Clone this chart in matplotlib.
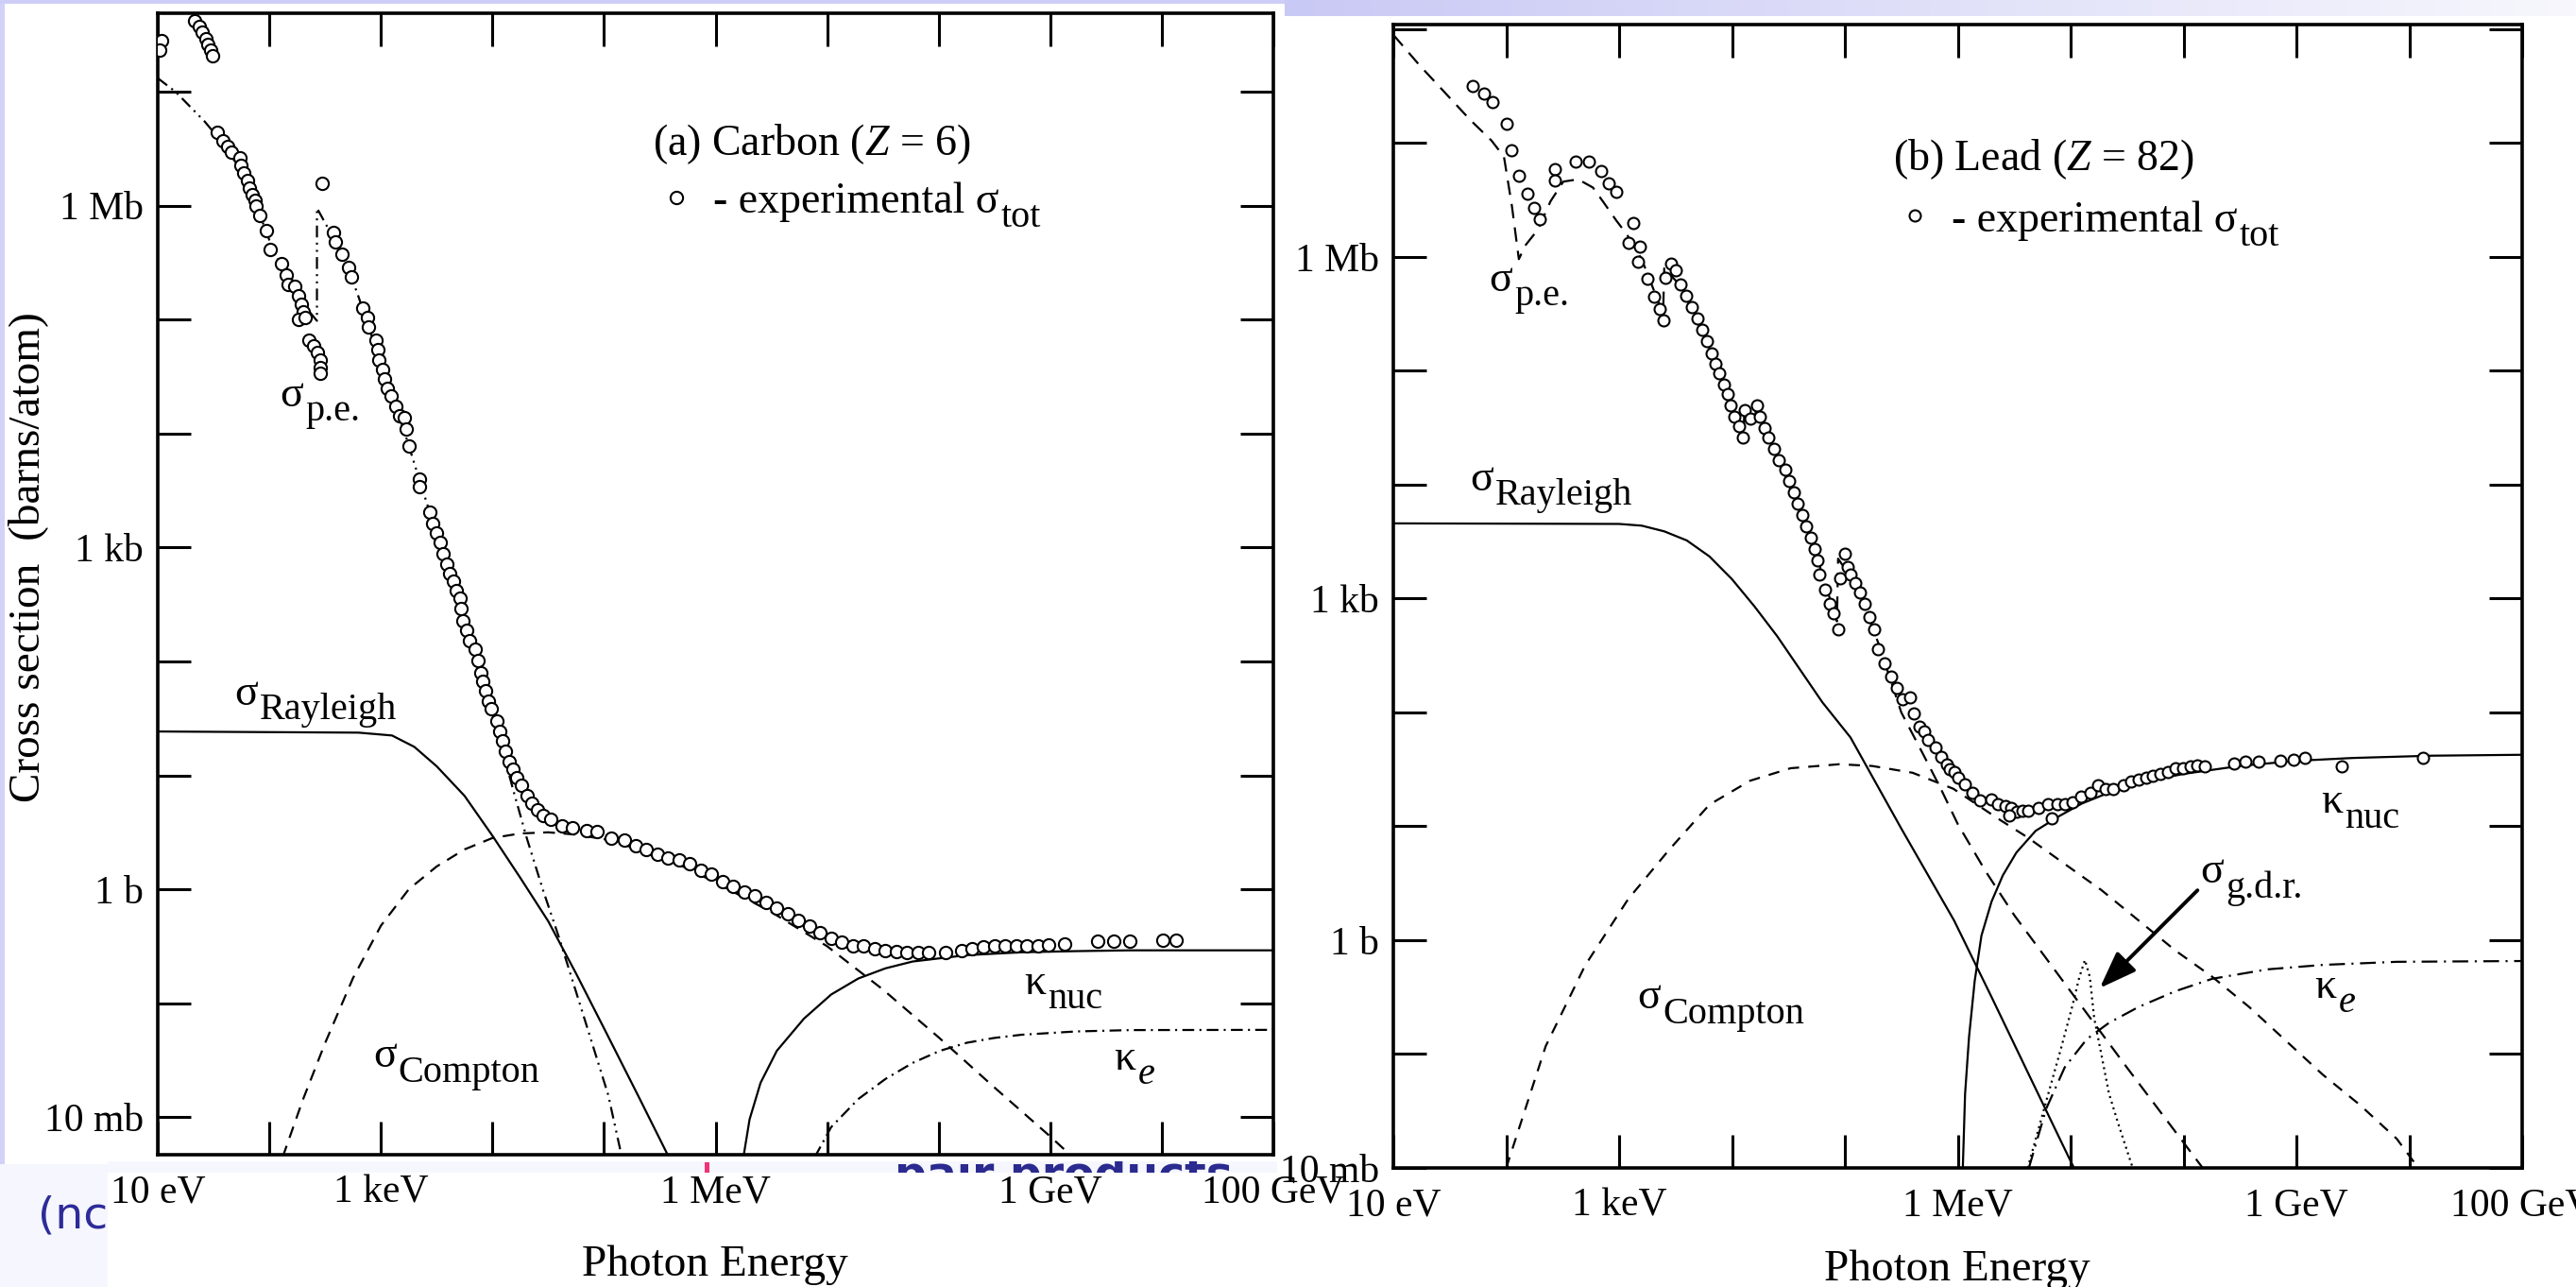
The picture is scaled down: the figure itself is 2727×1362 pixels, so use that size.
import numpy as np
import matplotlib
matplotlib.use("Agg")
import matplotlib.pyplot as plt
from matplotlib.patches import Rectangle
from matplotlib.lines import Line2D
from matplotlib.ticker import FixedLocator, FixedFormatter, NullLocator
from matplotlib.transforms import Bbox, TransformedBbox
from matplotlib.colors import LinearSegmentedColormap

plt.rcParams['font.family'] = ['Liberation Serif', 'DejaVu Serif']
plt.rcParams['mathtext.fontset'] = 'custom'
plt.rcParams['mathtext.rm'] = 'Liberation Serif'
plt.rcParams['mathtext.it'] = 'Liberation Serif:italic'
plt.rcParams['lines.scale_dashes'] = False

# ---------------- tick labels ----------------
x_tick_exp = list(range(1, 12))
x_tick_text = {1: '10 eV', 3: '1 keV', 6: '1 MeV', 9: '1 GeV', 11: '100 GeV'}
y_tick_text = {-2: '10 mb', 0: '1 b', 3: '1 kb', 6: '1 Mb'}

# ---------------- (a) Carbon : values as log10(E/eV), log10(sigma/barn) ----------------
c_exp_logE = [1.03, 1.02, 1.33, 1.37, 1.40, 1.43, 1.45, 1.47, 1.49,
              1.537, 1.582, 1.627, 1.658, 1.733, 1.742, 1.772, 1.802, 1.824, 1.845, 1.869, 1.884, 1.914, 1.974,
              2.005, 2.110, 2.155, 2.170, 2.231, 2.261, 2.291, 2.306, 2.261, 2.321, 2.351, 2.397, 2.427, 2.457,
              2.457, 2.457, 2.472,
              2.578, 2.593, 2.653, 2.713, 2.738, 2.834, 2.879, 2.888, 2.955, 2.970, 2.985, 3.015, 3.030, 3.060,
              3.090, 3.136, 3.166, 3.211, 3.226, 3.250, 3.347, 3.347, 3.437, 3.468, 3.498, 3.528, 3.558, 3.588,
              3.618, 3.649, 3.679, 3.709,
              3.722, 3.732, 3.771, 3.795, 3.844, 3.868, 3.893, 3.917, 3.942, 3.966, 3.990, 4.039, 4.063, 4.088,
              4.112, 4.151, 4.185, 4.219, 4.258, 4.307, 4.356, 4.404, 4.453, 4.526, 4.624, 4.721, 4.843, 4.941,
              5.062, 5.184, 5.282, 5.379, 5.477, 5.574, 5.672, 5.769, 5.866, 5.964, 6.061, 6.159, 6.256, 6.354,
              6.451, 6.549, 6.646, 6.744, 6.841, 6.939, 7.036, 7.134, 7.231, 7.328, 7.426, 7.523, 7.621, 7.718,
              7.816, 7.913, 8.059, 8.206, 8.303, 8.401, 8.498, 8.596, 8.693, 8.790, 8.888, 8.985, 9.131, 9.424,
              9.570, 9.716, 10.009, 10.131]
c_exp_logS = [7.45, 7.37, 7.62, 7.57, 7.52, 7.47, 7.42, 7.37, 7.32,
              6.642, 6.574, 6.524, 6.473, 6.422, 6.355, 6.287, 6.220, 6.152, 6.101, 6.051, 6.000, 5.916, 5.780,
              5.618, 5.493, 5.392, 5.307, 5.291, 5.206, 5.139, 5.071, 5.003, 5.020, 4.818, 4.767, 4.716, 4.649,
              4.581, 4.530, 6.193,
              5.764, 5.679, 5.578, 5.459, 5.375, 5.105, 5.020, 4.936, 4.818, 4.733, 4.649, 4.564, 4.480, 4.395,
              4.328, 4.243, 4.159, 4.142, 4.041, 3.889, 3.601, 3.534, 3.314, 3.213, 3.128, 3.044, 2.943, 2.858,
              2.774, 2.706, 2.622, 2.554,
              2.464, 2.358, 2.270, 2.181, 2.111, 2.005, 1.899, 1.829, 1.740, 1.652, 1.582, 1.476, 1.387, 1.299,
              1.211, 1.123, 1.052, 0.982, 0.911, 0.823, 0.752, 0.699, 0.646, 0.611, 0.558, 0.541, 0.516, 0.505,
              0.452, 0.435, 0.382, 0.347, 0.311, 0.276, 0.258, 0.223, 0.170, 0.135, 0.064, 0.029, -0.024, -0.059,
              -0.112, -0.165, -0.218, -0.271, -0.324, -0.377, -0.430, -0.465, -0.500, -0.500, -0.518, -0.536,
              -0.546, -0.553, -0.553, -0.553, -0.553, -0.536, -0.518, -0.507, -0.500, -0.500, -0.500, -0.500,
              -0.493, -0.490, -0.483, -0.458, -0.458, -0.458, -0.447, -0.447]

c_pe_logE = [1.0, 1.16, 1.42, 1.6, 1.8, 2.0, 2.1, 2.2, 2.3, 2.427, 2.427, 2.5, 2.6, 2.7, 2.8, 3.0, 3.2,
             3.35, 3.5, 3.7, 3.9, 4.0, 4.185, 4.307, 4.453, 4.599, 4.746, 4.892, 5.038, 5.16]
c_pe_logS = [7.12, 7.0, 6.74, 6.53, 6.22, 5.70, 5.49, 5.31, 5.14, 4.99, 5.98, 5.85, 5.67, 5.47, 5.2, 4.62, 4.05,
             3.58, 3.12, 2.57, 1.9, 1.55, 0.876, 0.452, -0.006, -0.43, -0.889, -1.347, -1.806, -2.35]

c_ray_logE = [1.0, 2.8, 3.1, 3.3, 3.5, 3.75, 4.0, 4.25, 4.5, 4.75, 5.0, 5.3, 5.55, 5.58]
c_ray_logS = [1.385, 1.375, 1.35, 1.25, 1.08, 0.82, 0.47, 0.10, -0.28, -0.74, -1.22, -1.80, -2.29, -2.35]

c_comp_logE = [2.12, 2.3, 2.5, 2.75, 3.0, 3.25, 3.5, 3.75, 4.0, 4.25, 4.5, 4.75, 5.0, 5.5, 6.0, 6.5,
               7.0, 7.5, 8.0, 8.5, 9.0, 9.2]
c_comp_logS = [-2.35, -1.85, -1.35, -0.78, -0.32, 0.0, 0.2, 0.35, 0.45, 0.49, 0.5, 0.48, 0.44, 0.3, 0.06,
               -0.2, -0.5, -0.88, -1.3, -1.74, -2.17, -2.35]

c_knuc_logE = [6.25, 6.305, 6.403, 6.549, 6.792, 7.036, 7.28, 7.523, 7.767, 8.254, 8.742, 9.229, 9.716, 11.0]
c_knuc_logS = [-2.35, -2.02, -1.70, -1.418, -1.136, -0.924, -0.783, -0.694, -0.634, -0.578, -0.553, -0.543,
               -0.536, -0.536]

c_ke_logE = [6.89, 7.036, 7.28, 7.523, 7.767, 8.011, 8.254, 8.498, 8.742, 9.229, 9.716, 11.0]
c_ke_logS = [-2.35, -2.088, -1.841, -1.665, -1.524, -1.418, -1.347, -1.305, -1.277, -1.248, -1.236, -1.234]

# ---------------- (b) Lead ----------------
p_exp_logE = [1.700, 1.801, 1.876, 2.000, 2.049, 2.112, 2.187, 2.243, 2.300,
              2.431, 2.431, 2.618, 2.730, 2.843, 2.906, 2.974,
              3.124, 3.086, 3.180, 3.169, 3.247, 3.311, 3.360, 3.397,
              3.412, 3.461, 3.498, 3.543, 3.592, 3.648, 3.697, 3.734, 3.779, 3.816, 3.854, 3.891, 3.929, 3.959,
              3.985, 4.022, 4.060, 4.097,
              4.109, 4.161, 4.221, 4.247, 4.285, 4.322, 4.371, 4.416, 4.472, 4.509, 4.547, 4.584, 4.622, 4.659,
              4.697, 4.734, 4.760, 4.772, 4.828, 4.865, 4.903, 4.940,
              4.959, 4.996, 5.022, 5.052, 5.090, 5.135, 5.172, 5.221, 5.258, 5.296, 5.352, 5.408, 5.464, 5.509,
              5.577, 5.614, 5.659,
              5.70, 5.74, 5.80, 5.85, 5.90, 5.93,
              5.967, 6.000, 6.065, 6.131, 6.196, 6.294, 6.359, 6.425, 6.474, 6.523, 6.572, 6.621, 6.719, 6.801,
              6.882, 6.948, 7.013, 7.095, 7.176, 7.242, 7.307, 7.373, 7.471, 7.536, 7.601, 7.667, 7.732, 7.797,
              7.863, 7.928, 7.993, 8.059, 8.124, 8.190, 8.451, 8.549, 8.663, 8.859, 8.974, 9.072, 9.399, 10.118,
              6.833, 6.458]
p_exp_logS = [7.503, 7.435, 7.363, 7.170, 6.934, 6.713, 6.553, 6.433, 6.329,
              6.770, 6.673, 6.834, 6.834, 6.750, 6.649, 6.569,
              6.301, 6.120, 6.092, 5.960, 5.808, 5.647, 5.539, 5.447,
              5.820, 5.940, 5.880, 5.760, 5.659, 5.559, 5.459, 5.359, 5.259, 5.150, 5.058, 4.978, 4.878, 4.798,
              4.697, 4.597, 4.517, 4.417,
              4.657, 4.577, 4.697, 4.597, 4.497, 4.417, 4.317, 4.216, 4.136, 4.036, 3.936, 3.836, 3.735, 3.635,
              3.535, 3.435, 3.335, 3.214, 3.074, 2.954, 2.874, 2.733,
              3.174, 3.395, 3.275, 3.214, 3.134, 3.054, 2.954, 2.834, 2.733, 2.553, 2.433, 2.313, 2.212, 2.112,
              2.132, 1.992, 1.872,
              1.83, 1.76, 1.69, 1.61, 1.545, 1.50,
              1.479, 1.430, 1.370, 1.298, 1.231, 1.238, 1.198, 1.182, 1.165, 1.132, 1.139, 1.139, 1.165, 1.192,
              1.192, 1.198, 1.215, 1.264, 1.298, 1.357, 1.331, 1.331, 1.364, 1.390, 1.413, 1.430, 1.446, 1.463,
              1.479, 1.512, 1.512, 1.529, 1.536, 1.529, 1.555, 1.569, 1.569, 1.579, 1.588, 1.602, 1.529, 1.602,
              1.066, 1.099]

p_pe_logE = [1.0, 1.232, 1.494, 1.682, 1.869, 1.98, 2.05, 2.112, 2.169, 2.281, 2.393, 2.506, 2.637, 2.768,
             2.861, 2.974, 3.067, 3.2, 3.39, 3.40, 3.55, 3.8, 4.0, 4.10, 4.11, 4.2, 4.22, 4.4, 4.7, 4.93, 4.94,
             5.1, 5.3, 5.5, 5.7, 5.85, 6.0, 6.25, 6.5, 7.0, 7.5, 8.17]
p_pe_logS = [7.95, 7.683, 7.403, 7.202, 7.022, 6.88, 6.45, 5.98, 6.10, 6.24, 6.489, 6.661, 6.681, 6.609,
             6.481, 6.321, 6.20, 5.98, 5.50, 5.90, 5.74, 5.2, 4.68, 4.42, 4.64, 4.57, 4.70, 4.25, 3.53, 2.80, 3.35,
             3.12, 2.60, 2.0, 1.62, 1.33, 1.02, 0.6, 0.22, -0.45, -1.12, -2.0]

p_ray_logE = [1.0, 3.0, 3.2, 3.4, 3.6, 3.8, 4.0, 4.2, 4.4, 4.6, 4.8, 5.05, 5.5, 5.967, 6.3, 6.62, 6.98, 7.03]
p_ray_logS = [3.66, 3.655, 3.64, 3.59, 3.51, 3.37, 3.17, 2.93, 2.67, 2.38, 2.09, 1.78, 0.98, 0.174, -0.5,
              -1.16, -1.9, -2.0]

p_comp_logE = [2.0, 2.35, 2.7, 3.08, 3.44, 3.8, 4.16, 4.52, 4.95, 5.24, 5.6, 5.96, 6.359, 6.621, 6.948,
               7.275, 7.601, 7.928, 8.255, 8.582, 8.908, 9.235, 9.562, 9.889, 10.08]
p_comp_logS = [-2.0, -0.93, -0.22, 0.36, 0.79, 1.19, 1.40, 1.51, 1.545, 1.53, 1.47, 1.33, 1.066, 0.901,
               0.669, 0.438, 0.174, -0.091, -0.322, -0.587, -0.884, -1.182, -1.446, -1.744, -2.0]

p_knuc_logE = [6.045, 6.065, 6.1, 6.15, 6.21, 6.3, 6.4, 6.52, 6.69, 6.9, 7.1, 7.35, 7.6, 8.0, 8.5, 9.0,
               9.5, 10.2, 11.0]
p_knuc_logS = [-2.0, -1.35, -0.85, -0.36, 0.04, 0.34, 0.57, 0.77, 0.96, 1.09, 1.2, 1.3, 1.38, 1.46, 1.53,
               1.575, 1.6, 1.62, 1.628]

p_ke_logE = [6.63, 6.784, 6.948, 7.144, 7.340, 7.601, 7.928, 8.255, 8.745, 9.235, 9.889, 11.0]
p_ke_logS = [-2.0, -1.479, -1.116, -0.868, -0.726, -0.587, -0.448, -0.339, -0.256, -0.217, -0.190, -0.183]

p_gdr_logE = [6.62, 6.784, 6.915, 7.013, 7.078, 7.127, 7.170, 7.209, 7.275, 7.340, 7.422, 7.55]
p_gdr_logS = [-2.0, -1.413, -0.950, -0.587, -0.322, -0.174, -0.322, -0.686, -1.017, -1.347, -1.612, -2.0]

# ---------------- figure ----------------
W, H = 2727, 1362
fig = plt.figure(figsize=(W / 100, H / 100), dpi=100)
fig.patch.set_facecolor('white')


def lin(a):
    return 10.0 ** np.asarray(a, dtype=float)


def fig_rect(x0, y0, x1, y1, color, z=-5):
    fig.add_artist(Rectangle((x0 / W, 1 - y1 / H), (x1 - x0) / W, (y1 - y0) / H,
                             transform=fig.transFigure, facecolor=color,
                             edgecolor='none', zorder=z))


def clip_fig(x0, y0, x1, y1):
    return TransformedBbox(Bbox([[x0 / W, 1 - y1 / H], [x1 / W, 1 - y0 / H]]), fig.transFigure)


# slide background remnants
LAV = '#cdcdf7'
fig_rect(0, 0, 5, 1232, '#d2d2f8')
fig_rect(0, 0, 1360, 4, LAV)
fig_rect(0, 1232, 114, H, '#f6f6fe')
fig_rect(114, 1229, 1352, 1241, '#f6f6fe')
fig_rect(746, 1230, 751, 1241, '#ee3377')
gax = fig.add_axes([1360 / W, 1 - 17 / H, (W - 1360) / W, 17 / H])
gax.imshow(np.linspace(0, 1, 256)[None, :], aspect='auto',
           cmap=LinearSegmentedColormap.from_list('lav', ['#c9c9f5', '#f7f7fd']))
gax.axis('off')

t_nc = fig.text(40 / W, 1 - 1300 / H, '(nc', fontsize=34, family='DejaVu Sans',
                color='#2c2c99', ha='left', va='baseline')
t_nc.set_clip_box(clip_fig(0, 1232, 114, H))
t_nc.set_clip_on(True)
t_bl = fig.text(947 / W, 1 - 1257 / H, 'pair products', fontsize=34, family='DejaVu Sans',
                weight='bold', color='#2a2a8f', ha='left', va='baseline')
t_bl.set_clip_box(clip_fig(114, 1229, 1352, 1241))
t_bl.set_clip_on(True)


def px_axes(x0, y0, x1, y1):
    return fig.add_axes([x0 / W, 1 - y1 / H, (x1 - x0) / W, (y1 - y0) / H])


def setup(ax, ylo, yhi):
    ax.set_xscale('log')
    ax.set_yscale('log')
    ax.set_xlim(1e1, 1e11)
    ax.set_ylim(10.0 ** ylo, 10.0 ** yhi)
    ax.xaxis.set_major_locator(FixedLocator([10.0 ** k for k in x_tick_exp]))
    ax.xaxis.set_major_formatter(FixedFormatter([x_tick_text.get(k, '') for k in x_tick_exp]))
    yexp = list(range(int(np.ceil(ylo - 1e-9)), int(np.floor(yhi)) + 1))
    ax.yaxis.set_major_locator(FixedLocator([10.0 ** k for k in yexp]))
    ax.yaxis.set_major_formatter(FixedFormatter([y_tick_text.get(k, '') for k in yexp]))
    ax.xaxis.set_minor_locator(NullLocator())
    ax.yaxis.set_minor_locator(NullLocator())
    ax.tick_params(which='major', direction='in', length=25, width=2.2, top=True, right=True,
                   labelsize=30, colors='black')
    ax.tick_params(axis='x', pad=15)
    ax.tick_params(axis='y', pad=11)
    for s in ax.spines.values():
        s.set_linewidth(2.6)


LW = 1.6


def sym_sub(ax, lx, ly, sym, sub, sub_style='normal', size=33, subsize=29, drop=11.0):
    t = ax.text(10.0 ** lx, 10.0 ** ly, sym, fontsize=size, ha='left', va='baseline')
    desc = 0.217 * size
    ax.annotate(sub, xy=(1, 0), xycoords=t, xytext=(1.5, desc - drop), textcoords='offset points',
                fontsize=subsize, ha='left', va='baseline', style=sub_style)
    return t


def legend_marker(ax, x, y, ms):
    h = Line2D([], [], ls='none', marker='o', ms=ms, mfc='white', mec='black', mew=1.5)
    leg = ax.legend(handles=[h], labels=['- experimental σ'], loc='center left',
                    bbox_to_anchor=(x, y), frameon=False, fontsize=33, handlelength=0.8,
                    handletextpad=0.45, borderpad=0, borderaxespad=0)
    txt = leg.get_texts()[0]
    desc = 0.217 * 33
    ax.annotate('tot', xy=(1, 0), xycoords=txt, xytext=(1.5, desc - 11), textcoords='offset points',
                fontsize=29, ha='left', va='baseline', zorder=10)


# ---------------- panel (a) Carbon ----------------
ax = px_axes(167, 14, 1348, 1222)
setup(ax, -2.33, 7.69)
ax.plot(lin(c_pe_logE), lin(c_pe_logS), color='k', lw=LW, ls=(0, (9, 4, 1.5, 4, 1.5, 4)))
ax.plot(lin(c_ray_logE), lin(c_ray_logS), color='k', lw=LW, ls='-')
ax.plot(lin(c_comp_logE), lin(c_comp_logS), color='k', lw=LW, ls=(0, (9, 6.5)))
ax.plot(lin(c_knuc_logE), lin(c_knuc_logS), color='k', lw=LW, ls='-')
ax.plot(lin(c_ke_logE), lin(c_ke_logS), color='k', lw=LW, ls=(0, (9, 4, 1.5, 4)))
ax.plot(lin(c_exp_logE), lin(c_exp_logS), ls='none', marker='o', ms=9.5, mfc='white', mec='black',
        mew=1.5, zorder=5)
ax.text(10 ** 5.434, 10 ** 6.445, '(a) Carbon ($Z$ = 6)', fontsize=33, ha='left', va='baseline')
legend_marker(ax, 0.449, 0.835, 9.5)
sym_sub(ax, 2.095, 4.243, 'σ', 'p.e.')
sym_sub(ax, 1.686, 1.617, 'σ', 'Rayleigh')
sym_sub(ax, 2.93, -1.56, 'σ', 'Compton')
sym_sub(ax, 8.765, -0.92, 'κ', 'nuc')
sym_sub(ax, 9.57, -1.58, 'κ', 'e', sub_style='italic')

# ---------------- panel (b) Lead ----------------
bx = px_axes(1475, 26, 2670, 1236)
setup(bx, -2.0, 8.04)
bx.plot(lin(p_pe_logE), lin(p_pe_logS), color='k', lw=LW, ls=(0, (11, 7)))
bx.plot(lin(p_ray_logE), lin(p_ray_logS), color='k', lw=LW, ls='-')
bx.plot(lin(p_comp_logE), lin(p_comp_logS), color='k', lw=LW, ls=(0, (8.5, 7)))
bx.plot(lin(p_knuc_logE), lin(p_knuc_logS), color='k', lw=LW, ls='-')
bx.plot(lin(p_ke_logE), lin(p_ke_logS), color='k', lw=LW, ls=(0, (12, 5, 1.5, 5)))
bx.plot(lin(p_gdr_logE), lin(p_gdr_logS), color='k', lw=LW, ls=(0, (1.5, 3)))
bx.plot(lin(p_exp_logE), lin(p_exp_logS), ls='none', marker='o', ms=8.6, mfc='white', mec='black',
        mew=1.5, zorder=5)
bx.text(10 ** 5.427, 10 ** 6.76, '(b) Lead ($Z$ = 82)', fontsize=33, ha='left', va='baseline')
legend_marker(bx, 0.447, 0.8287, 8.6)
sym_sub(bx, 1.85, 5.70, 'σ', 'p.e.')
sym_sub(bx, 1.682, 3.948, 'σ', 'Rayleigh')
sym_sub(bx, 3.161, -0.60, 'σ', 'Compton')
sym_sub(bx, 9.219, 1.116, 'κ', 'nuc')
sym_sub(bx, 8.150, 0.504, 'σ', 'g.d.r.')
sym_sub(bx, 9.163, -0.504, 'κ', 'e', sub_style='italic')
bx.annotate('', xy=(10 ** 7.258, 10 ** -0.421), xytext=(10 ** 8.124, 10 ** 0.438),
            arrowprops=dict(arrowstyle='-|>,head_length=0.6,head_width=0.22', mutation_scale=40,
                            lw=2.8, color='k', shrinkA=0, shrinkB=0))

# axis titles
fig.text(30 / W, 1 - 590 / H, 'Cross section  (barns/atom)', rotation=90, fontsize=34,
         ha='center', va='center')
fig.text(757 / W, 1 - 1350 / H, 'Photon Energy', fontsize=34, ha='center', va='baseline')
fig.text(2072 / W, 1 - 1355 / H, 'Photon Energy', fontsize=34, ha='center', va='baseline')

fig.savefig('out.png', dpi=100, facecolor='white')
